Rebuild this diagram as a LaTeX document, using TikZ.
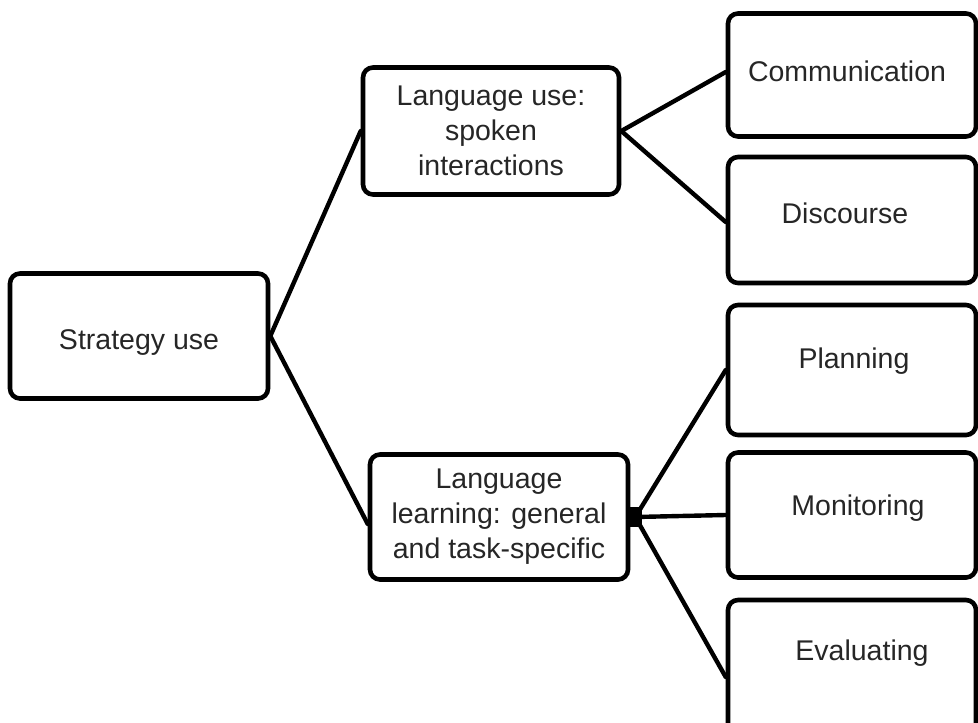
\documentclass[tikz,border=0pt]{standalone}
\usepackage{fontspec}
\setmainfont{Liberation Sans}
\begin{document}
\begin{tikzpicture}[x=1pt,y=-1pt,
  box/.style={draw=black, line width=4.6pt, rounded corners=10pt, align=center,
    inner sep=0pt, font=\fontsize{28.5}{35}\selectfont, text=black!85},
  link/.style={draw=black, line width=4.4pt, line cap=round},
  hub/.style={fill=black, inner sep=0pt, minimum width=13pt, minimum height=20pt}]
  \useasboundingbox (0,0) rectangle (978,723);

  % root and its two branches
  \node[box, minimum width=258pt, minimum height=125pt] (strat) at (139,336) {};
  \node[font=\fontsize{28.5}{35}\selectfont, text=black!85] (tstrat) at (139,343) {Strategy use};
  \node[box, minimum width=256pt, minimum height=127pt] (luse) at (491,131)
    {Language use:\\spoken\\interactions};
  \node[box, minimum width=258pt, minimum height=125pt] (learn) at (499,517)
    {Language\\learning: general\\and task-specific};

  % leaves, running off the right edge
  \node[box, minimum width=248pt, minimum height=123pt] (comm) at (852,75) {};
  \node[box, minimum width=248pt, minimum height=126pt] (disc) at (852,220) {};
  \node[box, minimum width=248pt, minimum height=130pt] (plan) at (852,370) {};
  \node[box, minimum width=248pt, minimum height=125pt] (moni) at (852,515) {};
  \node[box, minimum width=248pt, minimum height=140pt] (eval) at (852,670) {};

  \begin{scope}[font=\fontsize{28.5}{35}\selectfont, text=black!85]
    \node (tcomm) at (847,71) {Communication};
    \node (tdisc) at (845,213) {Discourse};
    \node (tplan) at (854,361) {Planning};
    \node (tmoni) at (858,508) {Monitoring};
    \node (teval) at (862,653) {Evaluating};
  \end{scope}

  % connectors
  \draw[link] (strat.east) -- (luse.west);
  \draw[link] (strat.east) -- ([yshift=-7pt]learn.west);
  \draw[link] (luse.east) -- ([yshift=3pt]comm.west);
  \draw[link] (luse.east) -- ([yshift=-2pt]disc.west);
  \node[hub] (hubnode) at ([xshift=5pt]learn.east) {};
  \draw[link] (hubnode.center) -- (plan.west);
  \draw[link] (hubnode.center) -- (moni.west);
  \draw[link] (hubnode.center) -- ([yshift=-7pt]eval.west);
\end{tikzpicture}
\end{document}
